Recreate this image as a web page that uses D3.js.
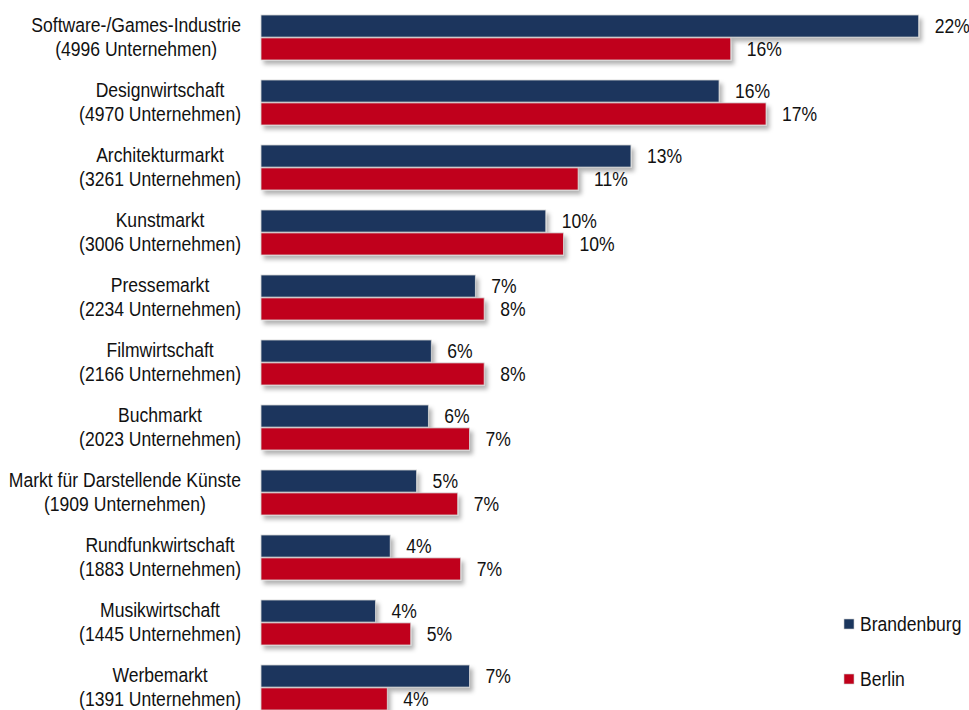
<!DOCTYPE html>
<html>
<head>
<meta charset="utf-8">
<script src="https://cdn.jsdelivr.net/npm/d3@7"></script>
<style>
  body { margin: 0; background: #fff; }
  text { font-family: "Liberation Sans", Arial, sans-serif; fill: #111; }
</style>
</head>
<body>
<svg width="969" height="710"></svg>
<script>
// categories (two-line labels)
var branchen = ["Software-/Games-Industrie", "Designwirtschaft", "Architekturmarkt", "Kunstmarkt",
  "Pressemarkt", "Filmwirtschaft", "Buchmarkt", "Markt für Darstellende Künste",
  "Rundfunkwirtschaft", "Musikwirtschaft", "Werbemarkt"];
var unternehmen = [4996, 4970, 3261, 3006, 2234, 2166, 2023, 1909, 1883, 1445, 1391];

// shares in percent
var brandenburg = [22.4, 15.6, 12.6, 9.7, 7.3, 5.8, 5.7, 5.3, 4.4, 3.9, 7.1];
var berlin = [16.0, 17.2, 10.8, 10.3, 7.6, 7.6, 7.1, 6.7, 6.8, 5.1, 4.3];

var seriesNames = ["Brandenburg", "Berlin"];
var colors = ["#1b365d", "#c0001a"];

var fontSize = "19.5px", squeeze = 0.9;  // text in the original is a bit condensed

var svg = d3.select("svg");

// drop shadow for the bars
var filter = svg.append("defs").append("filter")
  .attr("id", "shadow")
  .attr("x", "-5%").attr("y", "-30%")
  .attr("width", "115%").attr("height", "180%");
filter.append("feDropShadow")
  .attr("dx", 3).attr("dy", 4)
  .attr("stdDeviation", 2)
  .attr("flood-color", "#000")
  .attr("flood-opacity", 0.3);

function place(x, y) {
  return "translate(" + x + "," + y + ") scale(" + squeeze + ",1)";
}

var y = d3.scaleBand()
  .domain(branchen)
  .range([15, 710])
  .paddingInner(20 / 65)
  .paddingOuter(0);

var ySub = d3.scaleBand()
  .domain(seriesNames)
  .range([0, y.bandwidth()])
  .paddingInner(1.6 / 45);

var x = d3.scaleLinear()
  .domain([0, 22.4])
  .range([261, 918.7]);

var rows = branchen.map(function(b, i) {
  return {
    name: b,
    count: unternehmen[i],
    values: [
      {series: "Brandenburg", v: brandenburg[i], c: colors[0]},
      {series: "Berlin", v: berlin[i], c: colors[1]}
    ]
  };
});

var group = svg.append("g").selectAll("g")
  .data(rows)
  .enter().append("g")
  .attr("transform", function(d) { return "translate(0," + y(d.name) + ")"; });

group.selectAll("rect")
  .data(function(d) { return d.values; })
  .enter().append("rect")
  .attr("x", x(0))
  .attr("y", function(d) { return ySub(d.series); })
  .attr("width", function(d) { return x(d.v) - x(0); })
  .attr("height", ySub.bandwidth())
  .attr("fill", function(d) { return d.c; })
  .attr("stroke", "#d6d6d6")
  .attr("stroke-width", 0.8)
  .attr("filter", "url(#shadow)");

group.selectAll("text.val")
  .data(function(d) { return d.values; })
  .enter().append("text")
  .attr("class", "val")
  .attr("transform", function(d) {
    return place(x(d.v) + 16, ySub(d.series) + ySub.bandwidth() / 2);
  })
  .attr("dy", "0.35em")
  .style("font-size", fontSize)
  .text(function(d) { return Math.round(d.v) + "%"; });

// category labels: block right-aligned, lines centered inside the block
var labelRight = 241;
group.each(function(d) {
  var g = d3.select(this);
  var t1 = g.append("text")
    .attr("text-anchor", "middle")
    .style("font-size", fontSize)
    .text(d.name);
  var t2 = g.append("text")
    .attr("text-anchor", "middle")
    .style("font-size", fontSize)
    .text("(" + d.count + " Unternehmen)");
  var w = squeeze * Math.max(t1.node().getComputedTextLength(), t2.node().getComputedTextLength());
  t1.attr("transform", place(labelRight - w / 2, 16.7));
  t2.attr("transform", place(labelRight - w / 2, 41));
});

// legend
var legend = svg.append("g").selectAll("g")
  .data(seriesNames)
  .enter().append("g")
  .attr("transform", function(d, i) { return "translate(844," + (619 + i * 55) + ")"; });

legend.append("rect")
  .attr("width", 10).attr("height", 10)
  .attr("fill", function(d, i) { return colors[i]; })
  .attr("stroke", "#ccc")
  .attr("stroke-width", 0.6);

legend.append("text")
  .attr("transform", place(16, 5))
  .attr("dy", "0.35em")
  .style("font-size", fontSize)
  .text(function(d) { return d; });
</script>
</body>
</html>
